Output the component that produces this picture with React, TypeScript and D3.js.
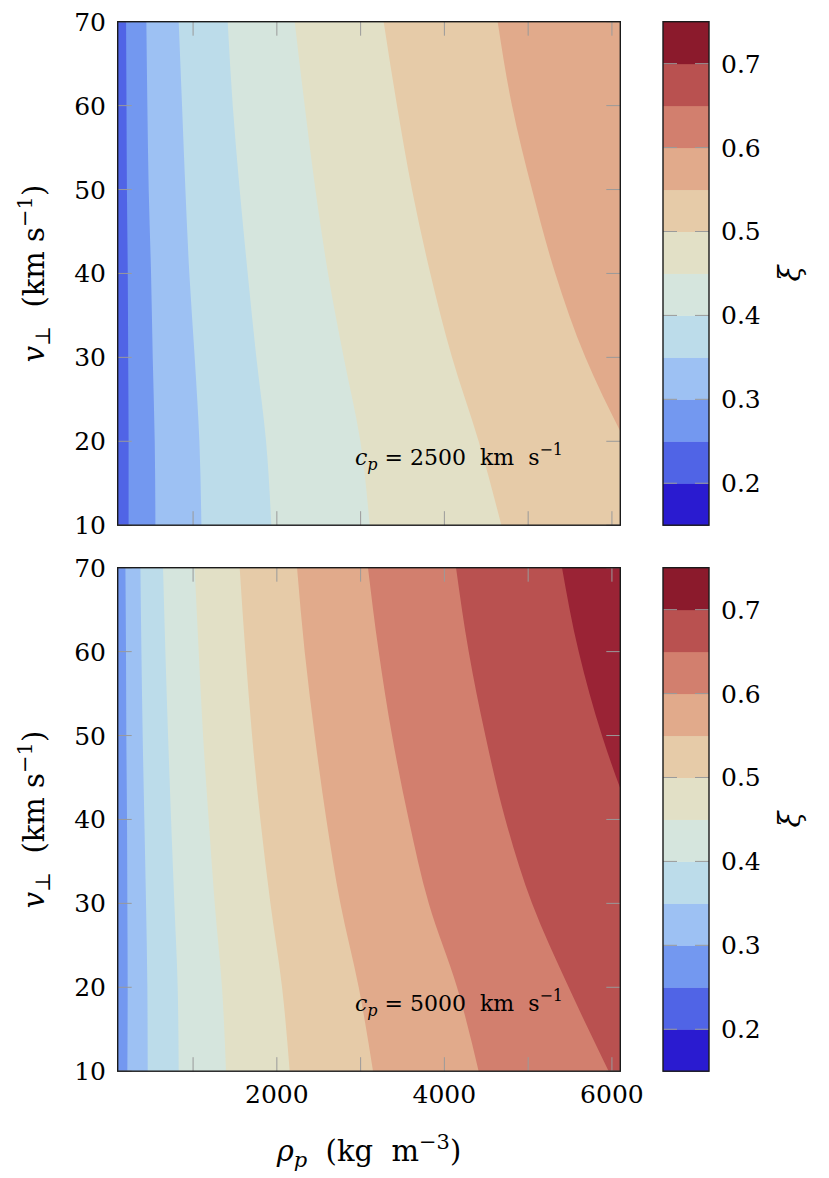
import React from 'react';
import * as d3 from 'd3';

// grid of the contour plots
const vSamples = [70, 60, 50, 40, 30, 20, 10];
const levels = [0.15, 0.2, 0.25, 0.3, 0.35, 0.4, 0.45, 0.5, 0.55, 0.6, 0.65, 0.7, 0.75];
const bandColors = [
  '#2a1bd0', '#5064e6', '#7398f0', '#9dc1f3', '#bcdcea', '#d5e5dd',
  '#e2e0c6', '#e6cba8', '#e1aa8b', '#d27f6e', '#b95150', '#9a2335',
];
const xTicks = [1000, 2000, 3000, 4000, 5000, 6000];
const xTickLabels = [2000, 4000, 6000];
const yTicks = [10, 20, 30, 40, 50, 60, 70];
const cbTicks = [0.2, 0.3, 0.4, 0.5, 0.6, 0.7];

// c_p = 2500 : rho_p on each xi contour, read at v = 70..10
const slow025 = [200, 205, 210, 220, 225, 230, 230];
const slow030 = [442, 454, 470, 498, 518, 542, 550];
const slow035 = [828, 868, 908, 955, 1019, 1075, 1099];
const slow040 = [1413, 1473, 1556, 1652, 1755, 1871, 1934];
const slow045 = [2213, 2332, 2460, 2611, 2798, 2997, 3108];
const slow050 = [3275, 3434, 3613, 3832, 4091, 4409, 4680];
const slow055 = [4636, 4807, 5046, 5324, 5683, 6160, 6700];

// c_p = 5000
const fast030 = [192, 199, 203, 211, 215, 219, 215];
const fast035 = [371, 383, 398, 418, 438, 454, 458];
const fast040 = [641, 669, 701, 737, 776, 816, 828];
const fast045 = [1019, 1067, 1119, 1186, 1258, 1345, 1393];
const fast050 = [1556, 1624, 1704, 1803, 1923, 2062, 2153];
const fast055 = [2241, 2332, 2452, 2591, 2758, 2977, 3148];
const fast060 = [3088, 3216, 3375, 3574, 3813, 4151, 4409];
const fast065 = [4139, 4290, 4489, 4728, 5046, 5484, 5961];
const fast070 = [5404, 5603, 5881, 6240, 6650, 7100, 7550];

const panels = [
  {
    id: 'slow', top: 21.7, speed: '2500', base: 1,
    contours: [
      { level: 0.25, rho: slow025 }, { level: 0.3, rho: slow030 },
      { level: 0.35, rho: slow035 }, { level: 0.4, rho: slow040 },
      { level: 0.45, rho: slow045 }, { level: 0.5, rho: slow050 },
      { level: 0.55, rho: slow055 },
    ],
  },
  {
    id: 'fast', top: 567.7, speed: '5000', base: 2,
    contours: [
      { level: 0.3, rho: fast030 }, { level: 0.35, rho: fast035 },
      { level: 0.4, rho: fast040 }, { level: 0.45, rho: fast045 },
      { level: 0.5, rho: fast050 }, { level: 0.55, rho: fast055 },
      { level: 0.6, rho: fast060 }, { level: 0.65, rho: fast065 },
      { level: 0.7, rho: fast070 },
    ],
  },
];

const FONT = 'DejaVu Serif';
const left = 117.7;
const right = 620.3;
const ph = 503.5;
const cbX = 663;
const cbW = 46;
const tickLen = 14;
const tickColor = '#9a9a9a';
const cbTop = '#8b1a2c'; // colour bar's top band is a bit darker than the filled contour

const x = d3.scaleLinear().domain([100, 6100]).range([left, right]);

const Panel = ({ p, last }: { p: any; last: boolean }) => {
  const y = d3.scaleLinear().domain([10, 70]).range([p.top + ph, p.top]);
  const cy = d3.scaleLinear().domain([0.15, 0.75]).range([p.top + ph, p.top]);
  const area = d3.area<[number, number]>()
    .y(d => y(d[0]))
    .x0(d => x(d[1]))
    .x1(x(9000))
    .curve(d3.curveMonotoneY);
  const bandOf = (lv: number) => levels.findIndex(l => Math.abs(l - lv) < 1e-6);
  const mid = p.top + ph / 2;

  return (
    <g>
      <defs>
        <clipPath id={`clip-${p.id}`}>
          <rect x={left} y={p.top} width={right - left} height={ph} />
        </clipPath>
      </defs>
      <g clipPath={`url(#clip-${p.id})`}>
        <rect x={left} y={p.top} width={right - left} height={ph} fill={bandColors[p.base]} />
        {p.contours.map((c: any) => (
          <path
            key={c.level}
            d={area(vSamples.map((v, i) => [v, c.rho[i]] as [number, number])) || ''}
            fill={bandColors[bandOf(c.level)]}
          />
        ))}
      </g>
      {/* ticks */}
      {xTicks.map(t => (
        <g key={t} stroke={tickColor} strokeWidth={1}>
          <line x1={x(t)} x2={x(t)} y1={p.top} y2={p.top + tickLen} />
          <line x1={x(t)} x2={x(t)} y1={p.top + ph} y2={p.top + ph - tickLen} />
        </g>
      ))}
      {yTicks.map(t => (
        <g key={t}>
          <line x1={left} x2={left + tickLen} y1={y(t)} y2={y(t)} stroke={tickColor} />
          <line x1={right} x2={right - tickLen} y1={y(t)} y2={y(t)} stroke={tickColor} />
          <text x={106} y={y(t) + 9} textAnchor="end" fontSize={25}>{t}</text>
        </g>
      ))}
      <rect x={left} y={p.top} width={right - left} height={ph} fill="none" stroke="#1a1a1a" strokeWidth={1.4} />

      <text x={355} y={p.top + 443} fontSize={22} style={{ whiteSpace: 'pre' }}>
        <tspan fontStyle="italic">c</tspan>
        <tspan fontStyle="italic" fontSize={16} dy={5}>p</tspan>
        <tspan dy={-5}>{` = ${p.speed}  km  s`}</tspan>
        <tspan fontSize={16} dy={-10}>−1</tspan>
      </text>

      <text transform={`translate(44,${mid}) rotate(-90)`} textAnchor="middle" fontSize={29}
        style={{ whiteSpace: 'pre' }}>
        <tspan fontStyle="italic">v</tspan>
        <tspan fontSize={21} dy={6}>⊥</tspan>
        <tspan dy={-6}>{'  (km s'}</tspan>
        <tspan fontSize={21} dy={-12}>−1</tspan>
        <tspan dy={12}>)</tspan>
      </text>

      {/* colour bar */}
      {bandColors.map((c, i) => (
        <rect key={i} x={cbX} y={cy(levels[i + 1])} width={cbW}
          height={cy(levels[i]) - cy(levels[i + 1]) + 0.5}
          fill={i === bandColors.length - 1 ? cbTop : c} />
      ))}
      {cbTicks.map(t => (
        <g key={t}>
          <line x1={cbX} x2={cbX + 14} y1={cy(t)} y2={cy(t)} stroke={tickColor} />
          <line x1={cbX + cbW} x2={cbX + cbW - 14} y1={cy(t)} y2={cy(t)} stroke={tickColor} />
          <text x={721} y={cy(t) + 9} fontSize={25}>{t.toFixed(1)}</text>
        </g>
      ))}
      <rect x={cbX} y={p.top} width={cbW} height={ph} fill="none" stroke="#1a1a1a" strokeWidth={1.4} />
      <text transform={`translate(800,${mid}) rotate(-90)`} textAnchor="middle" fontSize={29} fontStyle="italic">ξ</text>

      {last && xTickLabels.map(t => (
        <text key={t} x={x(t)} y={p.top + ph + 32} textAnchor="middle" fontSize={25}>{t}</text>
      ))}
    </g>
  );
};

export default function App() {
  return (
    <svg width={829} height={1178} fontFamily={FONT}
      style={{ position: 'absolute', left: 0, top: 0, background: '#fff' }}>
      {panels.map((p, i) => (
        <Panel key={p.id} p={p} last={i === panels.length - 1} />
      ))}
      <text x={(left + right) / 2} y={1161} textAnchor="middle" fontSize={29} style={{ whiteSpace: 'pre' }}>
        <tspan fontStyle="italic">ρ</tspan>
        <tspan fontStyle="italic" fontSize={21} dy={6}>p</tspan>
        <tspan dy={-6}>{'  (kg  m'}</tspan>
        <tspan fontSize={21} dy={-12}>−3</tspan>
        <tspan dy={12}>)</tspan>
      </text>
    </svg>
  );
}
